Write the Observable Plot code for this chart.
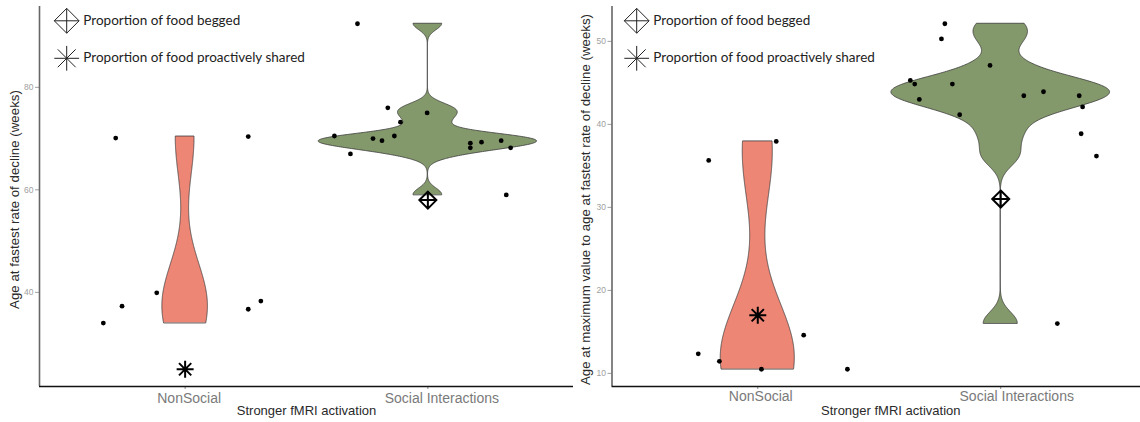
<!DOCTYPE html>
<html><head><meta charset="utf-8">
<script src="https://cdn.jsdelivr.net/npm/d3@7"></script>
<script src="https://cdn.jsdelivr.net/npm/@observablehq/plot@0.6"></script>
<style>
body{margin:0;background:#fff;}
#wrap{position:relative;width:1140px;height:422px;overflow:hidden;background:#fff;}
.panel{position:absolute;top:0;}
.panel svg{overflow:visible;}
.legend{position:absolute;left:0;top:0;}
</style></head><body><div id="wrap"></div>
<script>
const categories = ["NonSocial", "Social Interactions"];
const legendLabels = ["Proportion of food begged", "Proportion of food proactively shared"];
const xTitle = "Stronger fMRI activation";

// Panel A
const aTitle = "Age at fastest rate of decline (weeks)";
const aNonSocial = [70.1, 70.4, 39.9, 37.3, 34.0, 36.7, 38.3];
const aNonSocialJitter = [-0.286, 0.260, -0.117, -0.260, -0.337, 0.260, 0.312];
const aSocial = [92.4, 76.0, 75.0, 73.2, 70.5, 70.5, 70.0, 69.6, 69.6, 69.3, 69.1, 68.2, 68.2, 67.0, 59.0];
const aSocialJitter = [-0.290, -0.165, -0.003, -0.113, -0.385, -0.138, -0.226, -0.189, 0.302, 0.221, 0.175, 0.175, 0.341, -0.319, 0.323];
const aBegged = 58.0;   // Social Interactions
const aShared = 25.0;   // NonSocial
const aTicks = [40, 60, 80];

// Panel B
const bTitle = "Age at maximum value to age at fastest rate of decline (weeks)";
const bNonSocial = [37.95, 35.66, 14.6, 12.36, 11.45, 10.5, 10.5];
const bNonSocialJitter = [0.076, -0.202, 0.189, -0.245, -0.158, 0.015, 0.369];
const bSocial = [52.12, 50.3, 47.1, 45.3, 44.85, 44.85, 43.93, 43.45, 43.45, 43.0, 42.1, 41.16, 38.87, 36.18, 16.0];
const bSocialJitter = [-0.230, -0.244, -0.044, -0.372, -0.354, -0.199, 0.176, 0.095, 0.323, -0.335, 0.337, -0.169, 0.331, 0.394, 0.233];
const bBegged = 31.0;   // Social Interactions
const bShared = 17.0;   // NonSocial
const bTicks = [10, 20, 30, 40, 50];

const fills = ["#ee8676", "#84996b"];
const SANS = "'Liberation Sans', Arial, sans-serif";

function bwNrd0(x) {
  const s = d3.deviation(x);
  const sorted = x.slice().sort(d3.ascending);
  const iqr = d3.quantileSorted(sorted, 0.75) - d3.quantileSorted(sorted, 0.25);
  let lo = Math.min(s, iqr / 1.34);
  if (!(lo > 0)) lo = s || 1;
  return 0.9 * lo * Math.pow(x.length, -0.2);
}
function kde(x, n = 512) {
  const bw = bwNrd0(x);
  const [a, b] = d3.extent(x);
  const out = [];
  for (let i = 0; i < n; i++) {
    const y = a + (b - a) * i / (n - 1);
    let s = 0;
    for (const v of x) { const z = (y - v) / bw; s += Math.exp(-0.5 * z * z); }
    out.push({y, d: s / (x.length * bw * Math.sqrt(2 * Math.PI))});
  }
  return out;
}
const diamondPlus = {draw(ctx, size) {
  const r = Math.sqrt(size / Math.PI);
  ctx.moveTo(0, -r); ctx.lineTo(r, 0); ctx.lineTo(0, r); ctx.lineTo(-r, 0); ctx.closePath();
  ctx.moveTo(-r, 0); ctx.lineTo(r, 0); ctx.moveTo(0, -r); ctx.lineTo(0, r);
}};
const star8 = {draw(ctx, size) {
  const r = Math.sqrt(size / Math.PI), q = r * 0.72;
  ctx.moveTo(-r, 0); ctx.lineTo(r, 0); ctx.moveTo(0, -r); ctx.lineTo(0, r);
  ctx.moveTo(-q, -q); ctx.lineTo(q, q); ctx.moveTo(-q, q); ctx.lineTo(q, -q);
}};

function makePanel(o) {
  const groups = [o.nonSocial, o.social];
  const jit = [o.nonSocialJitter, o.socialJitter];
  const dens = groups.map(g => kde(g));
  const maxD = d3.max(dens.flat(), d => d.d);
  const violin = dens.flatMap((arr, gi) => arr.map(p => ({
    g: categories[gi], y: p.y,
    x1: gi + 1 - 0.45 * p.d / maxD, x2: gi + 1 + 0.45 * p.d / maxD})));
  const points = [];
  groups.forEach((vals, gi) => vals.forEach((v, i) => points.push({x: gi + 1 + jit[gi][i], y: v})));
  const all = [...o.nonSocial, ...o.social, o.begged, o.shared];
  const [lo, hi] = d3.extent(all);
  const pad = 0.05 * (hi - lo);
  const y0 = lo - pad, y1 = hi + pad;
  const labels = categories.map((c, i) => ({c, x: i + 1}));
  const txt = {textAnchor: "middle", lineAnchor: "middle", fontFamily: SANS};
  return Plot.plot({
    width: o.width, height: 422,
    marginLeft: o.marginLeft, marginRight: 0, marginTop: 6, marginBottom: 36,
    style: {background: "transparent", overflow: "visible"},
    x: {domain: [0.4, 2.6], axis: null},
    y: {domain: [y0, y1], axis: null},
    color: {domain: categories, range: fills},
    marks: [
      Plot.areaX(violin, {y: "y", x1: "x1", x2: "x2", z: "g", fill: "g", stroke: "#3a3a3a", strokeWidth: 0.8}),
      Plot.axisY({ticks: o.ticks, tickSize: 4, tickPadding: 2, fontSize: 8.5, fontFamily: SANS, color: "#a0a0a0", label: null}),
      Plot.axisX({ticks: [1, 2], tickSize: 3, tickFormat: () => "", color: "#888", label: null}),
      Plot.ruleX([0.4], {stroke: "#666", strokeWidth: 1.6}),
      Plot.ruleY([y0], {stroke: "#111", strokeWidth: 1.4}),
      Plot.dot(points, {x: "x", y: "y", r: 2.4, fill: "#000"}),
      Plot.dot([{x: 2, y: o.begged}], {x: "x", y: "y", symbol: diamondPlus, r: 8.5, stroke: "#000", strokeWidth: 2, fill: "none"}),
      Plot.dot([{x: 1, y: o.shared}], {x: "x", y: "y", symbol: star8, r: 8.5, stroke: "#000", strokeWidth: 2, fill: "none"}),
      Plot.text(labels.slice(0, 1), {...txt, x: "x", text: "c", frameAnchor: "bottom", dy: o.labelDy, dx: o.labelDx[0], fontSize: 14, fill: "#7a7a7a"}),
      Plot.text(labels.slice(1, 2), {...txt, x: "x", text: "c", frameAnchor: "bottom", dy: o.labelDy, dx: o.labelDx[1], fontSize: 14, fill: "#7a7a7a"}),
      Plot.text([xTitle], {...txt, text: d => d, frameAnchor: "bottom", dy: 24.5, dx: o.titleDx, fontSize: 13, fill: "#2a2a2a"}),
      Plot.text([o.yTitle], {...txt, text: d => d, frameAnchor: "left", rotate: -90, dx: o.yTitleDx, dy: 3, fontSize: 13.3, fill: "#2a2a2a"})
    ]
  });
}

function makeLegend() {
  const svg = d3.create("svg").attr("width", 330).attr("height", 80).attr("class", "legend");
  const rows = [{sym: diamondPlus, y: 20.8, ty: 19.5}, {sym: star8, y: 58.3, ty: 57}];
  rows.forEach((r, i) => {
    svg.append("path").attr("d", d3.symbol(r.sym, Math.PI * 12.4 * 12.4)())
      .attr("transform", `translate(66.7,${r.y})`).attr("fill", "none").attr("stroke", "#222").attr("stroke-width", 1);
    svg.append("text").attr("x", 83.3).attr("y", r.ty).attr("dominant-baseline", "central")
      .attr("font-family", "Lato, 'Open Sans', sans-serif").attr("font-size", 13.5).attr("fill", "#222")
      .text(legendLabels[i]);
  });
  return svg.node();
}

const wrap = document.getElementById("wrap");
const specs = [
  {left: 0, width: 573, marginLeft: 39, yTitle: aTitle, nonSocial: aNonSocial, nonSocialJitter: aNonSocialJitter,
   social: aSocial, socialJitter: aSocialJitter, begged: aBegged, shared: aShared, ticks: aTicks,
   labelDx: [4, 14], labelDy: 12, titleDx: 0, yTitleDx: -25},
  {left: 570, width: 576, marginLeft: 41.5, yTitle: bTitle, nonSocial: bNonSocial, nonSocialJitter: bNonSocialJitter,
   social: bSocial, socialJitter: bSocialJitter, begged: bBegged, shared: bShared, ticks: bTicks,
   labelDx: [3, 16], labelDy: 10.5, titleDx: 11.5, yTitleDx: -26}
];
for (const s of specs) {
  const div = document.createElement("div");
  div.className = "panel";
  div.style.left = s.left + "px";
  div.style.width = s.width + "px";
  div.style.height = "422px";
  div.appendChild(makePanel(s));
  div.appendChild(makeLegend());
  wrap.appendChild(div);
}
</script>
</body></html>
